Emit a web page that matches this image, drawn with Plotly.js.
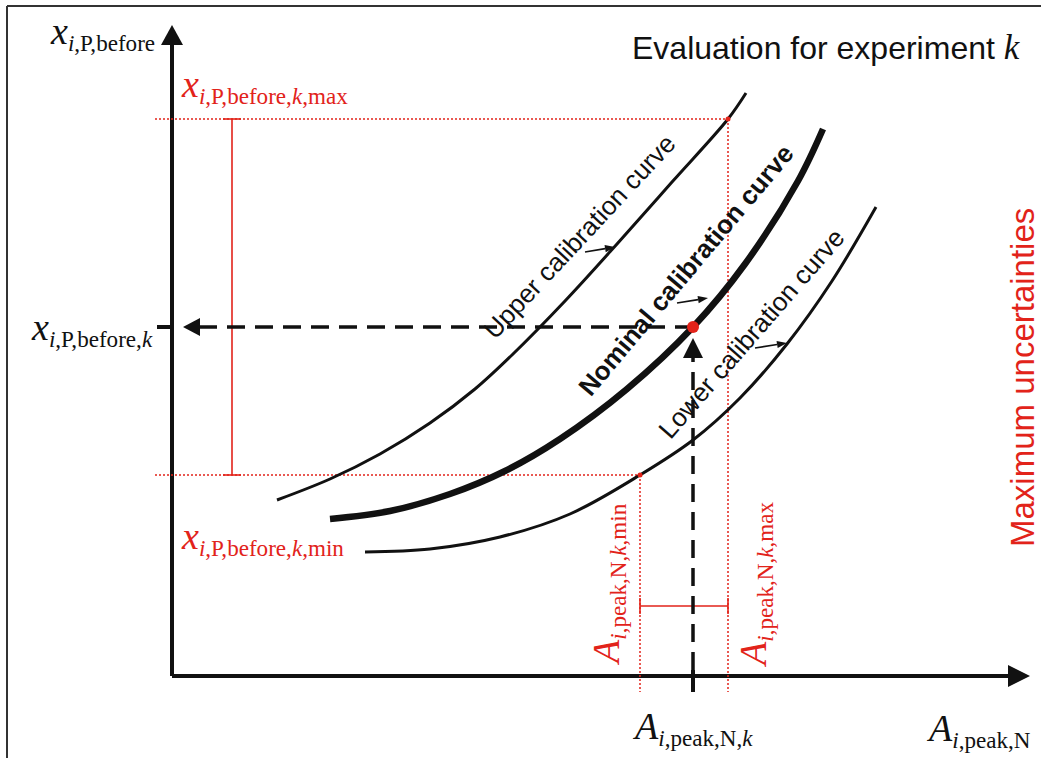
<!DOCTYPE html>
<html><head><meta charset="utf-8">
<script src="https://cdn.plot.ly/plotly-3.0.1.min.js"></script>
<style>html,body{margin:0;padding:0;background:#fff;overflow:hidden}</style>
</head><body><div id="chart" style="width:1041px;height:758px"></div>
<script>
// ---- schematic data (arbitrary units; origin at the axis crossing) ----
const upperX   = [105, 158, 208, 258, 303, 341, 393, 445, 500, 556, 574];
const upperY   = [176, 197, 222, 253, 287, 322, 375, 432, 494, 557, 583];
const nominalX = [158, 218, 278, 333, 388, 455, 521, 573, 626, 651];
const nominalY = [157, 165, 182, 205, 237, 287, 349, 412, 495, 547];
const lowerX   = [193, 258, 328, 398, 468, 521, 568, 615, 660, 704];
const lowerY   = [124, 127, 139, 162, 201, 236, 278, 332, 395, 469];

const aK = 521, xK = 349;          // measured peak area and evaluated fraction
const aMin = 468, aMax = 556;      // min / max peak area
const xMin = 201, xMax = 557;      // min / max fraction
const axisXEnd = 858, axisYEnd = 651;

const curveLabels = ['Upper calibration curve', '<b>Nominal calibration curve</b>', 'Lower calibration curve'];
const labelX = [407, 514, 579];
const labelY = [439, 406, 342];
const labelAngle = [-47, -50, -49];
const arrowTailX = [413, 505, 583], arrowTailY = [424, 373, 328];
const arrowTipX  = [443, 536, 615], arrowTipY  = [429, 378, 333];

// ---- styles ----
const RED = '#e2231a';
const BLACK = '#111';
const SERIF = 'Liberation Serif, Times New Roman, serif';
const SANS = 'Liberation Sans, Arial, sans-serif';

function seg(x, y, color, width, dash) {
  return {type: 'scatter', mode: 'lines', x: x, y: y, hoverinfo: 'skip',
          line: {color: color, width: width, dash: dash || 'solid'}};
}
function tri(xs, ys, color) {
  return {type: 'scatter', mode: 'lines', x: xs, y: ys, fill: 'toself', fillcolor: color,
          line: {width: 0, color: color}, hoverinfo: 'skip'};
}

const traces = [];
// axes
traces.push(seg([0, 0], [0, axisYEnd - 20], BLACK, 4));
traces.push(seg([0, axisXEnd - 20], [0, 0], BLACK, 4));
traces.push(tri([-11, 0, 11, -11], [axisYEnd - 20, axisYEnd, axisYEnd - 20, axisYEnd - 20], BLACK));
traces.push(tri([axisXEnd - 22, axisXEnd, axisXEnd - 22, axisXEnd - 22], [11, 0, -11, 11], BLACK));
// ticks
traces.push(seg([-15, 0], [xK, xK], BLACK, 4));
traces.push(seg([aK, aK], [-16, 6], BLACK, 4));

// red dotted guides
const dotted = '2px,2px';
traces.push(seg([-17, aMax], [xMax, xMax], RED, 1.5, dotted));
traces.push(seg([-17, aMin], [xMin, xMin], RED, 1.5, dotted));
traces.push(seg([aMax, aMax], [xMax, -16], RED, 1.5, dotted));
traces.push(seg([aMin, aMin], [xMin, -16], RED, 1.5, dotted));

// red error bars
const ebX = 60, ebY = 70;
traces.push(seg([ebX, ebX, null, ebX - 9, ebX + 9, null, ebX - 9, ebX + 9],
                [xMin, xMax, null, xMax, xMax, null, xMin, xMin], RED, 1.6));
traces.push(seg([aMin, aMax, null, aMin, aMin, null, aMax, aMax],
                [ebY, ebY, null, ebY - 8, ebY + 8, null, ebY - 8, ebY + 8], RED, 1.6));

// curves
traces.push({type: 'scatter', mode: 'lines', x: upperX, y: upperY, line: {color: BLACK, width: 3, shape: 'spline', smoothing: 1}, hoverinfo: 'skip'});
traces.push({type: 'scatter', mode: 'lines', x: nominalX, y: nominalY, line: {color: BLACK, width: 6.5, shape: 'spline', smoothing: 1}, hoverinfo: 'skip'});
traces.push({type: 'scatter', mode: 'lines', x: lowerX, y: lowerY, line: {color: BLACK, width: 3, shape: 'spline', smoothing: 1}, hoverinfo: 'skip'});

// dashed read-off lines with arrowheads
traces.push(seg([aK, 28], [xK, xK], BLACK, 3.5, '18px,10px'));
traces.push(tri([28, 11, 28, 28], [xK + 9, xK, xK - 9, xK + 9], BLACK));
traces.push(seg([aK, aK], [6, 318], BLACK, 3.5, '18px,10px'));
traces.push(tri([aK - 10, aK, aK + 10, aK - 10], [318, 338, 318, 318], BLACK));

// small pointer arrows next to the curve labels
for (let i = 0; i < arrowTipX.length; i++) {
  const dx = arrowTipX[i] - arrowTailX[i], dy = arrowTipY[i] - arrowTailY[i];
  const L = Math.hypot(dx, dy), ux = dx / L, uy = dy / L;
  const hl = 10, hw = 3.6;
  const bx = arrowTipX[i] - ux * hl, by = arrowTipY[i] - uy * hl;
  traces.push(seg([arrowTailX[i], bx], [arrowTailY[i], by], BLACK, 1.6));
  traces.push(tri([bx - uy * hw, arrowTipX[i], bx + uy * hw, bx - uy * hw],
                  [by + ux * hw, arrowTipY[i], by - ux * hw, by + ux * hw], BLACK));
}

// points
traces.push({type: 'scatter', mode: 'markers', x: [aMax, aMin], y: [xMax, xMin],
             marker: {color: RED, size: 5}, hoverinfo: 'skip'});
traces.push({type: 'scatter', mode: 'markers', x: [aK], y: [xK],
             marker: {color: RED, size: 12}, hoverinfo: 'skip'});

const ann = [];
function txt(text, x, y, opts) {
  ann.push(Object.assign({text: text, x: x, y: y, xref: 'x', yref: 'y', showarrow: false,
    xanchor: 'center', yanchor: 'middle', font: {family: SERIF, size: 33, color: BLACK}}, opts || {}));
}
function sym(letter, sub) {
  return '<span style="font-size:38px"><i>' + letter + '</i></span><sub>' + sub + '</sub>';
}
const redSerif = {family: SERIF, size: 33, color: RED};
txt(sym('x', '<i>i</i>,P,before'), -15, 643, {xanchor: 'right'});
txt(sym('x', '<i>i</i>,P,before,<i>k</i>,max'), 7, 590, {xanchor: 'left', font: redSerif});
txt(sym('x', '<i>i</i>,P,before,<i>k</i>'), -17, 347, {xanchor: 'right'});
txt(sym('x', '<i>i</i>,P,before,<i>k</i>,min'), 7, 138, {xanchor: 'left', font: redSerif});
txt(sym('A', '<i>i</i>,peak,N,<i>k</i>,min'), 436, 91, {textangle: -90, font: redSerif});
txt(sym('A', '<i>i</i>,peak,N,<i>k</i>,max'), 583, 91, {textangle: -90, font: redSerif});
txt(sym('A', '<i>i</i>,peak,N,<i>k</i>'), 520, -52);
txt(sym('A', '<i>i</i>,peak,N'), 806, -54);
txt('Evaluation for experiment <span style="font-family:Liberation Serif;font-size:35px"><i>k</i></span>', 851, 629,
    {xanchor: 'right', font: {family: SANS, size: 32, color: BLACK}});
txt('Maximum uncertainties', 850, 298, {textangle: -90, font: {family: SANS, size: 33, color: RED}});
for (let i = 0; i < curveLabels.length; i++) {
  txt(curveLabels[i], labelX[i], labelY[i], {textangle: labelAngle[i], font: {family: SANS, size: 26, color: BLACK}});
}

const layout = {
  width: 1041, height: 758, margin: {l: 0, r: 0, t: 0, b: 0},
  paper_bgcolor: '#fff', plot_bgcolor: '#fff', showlegend: false, hovermode: false,
  xaxis: {range: [-172, 869], visible: false, fixedrange: true},
  yaxis: {range: [-82, 676], visible: false, fixedrange: true},
  annotations: ann,
  shapes: [
    {type: 'line', xref: 'paper', yref: 'paper', x0: 7 / 1041, x1: 1, y0: 1 - 6 / 758, y1: 1 - 6 / 758, line: {color: '#333', width: 2}},
    {type: 'line', xref: 'paper', yref: 'paper', x0: 7 / 1041, x1: 7 / 1041, y0: 0, y1: 1 - 6 / 758, line: {color: '#333', width: 2}}
  ]
};
Plotly.newPlot('chart', traces, layout, {staticPlot: true, displayModeBar: false});
</script></body></html>
